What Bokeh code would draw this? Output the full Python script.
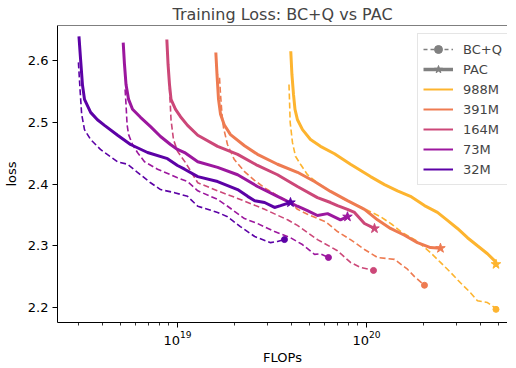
from bokeh.plotting import figure
from bokeh.models import (Range1d, FixedTicker, LogTickFormatter, Legend, LegendItem, Span)
from bokeh.embed import file_html
from bokeh.resources import INLINE

E18 = 1e18

models = ["988M", "391M", "164M", "73M", "32M"]
colors = {"32M": "#5c01a6", "73M": "#9c179e", "164M": "#cc4778", "391M": "#ee7b51", "988M": "#fdb42f"}

# ---- PAC (solid) ----
flops_32m_pac = [3.01, 3.07, 3.14, 3.22, 3.47, 3.77, 4.11, 4.82, 5.64, 6.94, 8.85, 10.0, 10.9, 12.8, 16.3, 20.8, 23.5, 25.6, 28.9, 32.6, 35.1, 36.8, 39.6]
loss_32m_pac = [2.639, 2.602, 2.561, 2.537, 2.516, 2.504, 2.495, 2.479, 2.464, 2.451, 2.441, 2.430, 2.424, 2.412, 2.404, 2.391, 2.380, 2.373, 2.370, 2.362, 2.365, 2.367, 2.370]

flops_73m_pac = [5.16, 5.24, 5.34, 5.51, 5.78, 6.37, 7.20, 8.13, 9.18, 10.0, 10.9, 12.8, 16.3, 20.8, 26.5, 33.8, 43.1, 48.7, 55.0, 62.2, 72.8, 79.3]
loss_73m_pac = [2.629, 2.594, 2.561, 2.537, 2.521, 2.508, 2.493, 2.477, 2.464, 2.456, 2.451, 2.436, 2.427, 2.415, 2.396, 2.380, 2.364, 2.357, 2.349, 2.352, 2.342, 2.347]

flops_164m_pac = [8.78, 8.91, 9.07, 9.24, 9.76, 10.37, 11.3, 12.8, 16.3, 20.8, 26.5, 33.8, 43.1, 55.0, 64.5, 70.2, 79.3, 86.4, 97.5, 110.2]
loss_164m_pac = [2.634, 2.594, 2.561, 2.537, 2.521, 2.509, 2.495, 2.479, 2.461, 2.448, 2.430, 2.415, 2.396, 2.378, 2.370, 2.365, 2.359, 2.354, 2.336, 2.328]

flops_391m_pac = [15.95, 16.18, 16.48, 16.89, 17.66, 19.07, 22.62, 26.49, 33.8, 43.13, 53.05, 64.47, 79.29, 97.54, 114.3, 133.9, 158.8, 186.0, 217.9, 246.2]
loss_391m_pac = [2.613, 2.577, 2.537, 2.513, 2.496, 2.480, 2.462, 2.448, 2.432, 2.419, 2.404, 2.388, 2.373, 2.359, 2.342, 2.328, 2.317, 2.305, 2.297, 2.296]

flops_988m_pac = [39.74, 40.31, 41.08, 41.84, 43.13, 45.84, 50.53, 57.07, 67.69, 82.25, 105.0, 124.5, 145.8, 170.8, 202.6, 237.3, 268.1, 302.8, 342.0, 386.3, 436.4, 475.3, 484.2]
loss_988m_pac = [2.615, 2.577, 2.545, 2.521, 2.504, 2.488, 2.472, 2.461, 2.449, 2.432, 2.412, 2.399, 2.389, 2.380, 2.365, 2.354, 2.341, 2.328, 2.313, 2.300, 2.287, 2.276, 2.270]

# ---- BC+Q (dashed) ----
flops_32m_bcq = [2.99, 3.05, 3.11, 3.22, 3.47, 3.91, 4.82, 5.44, 6.14, 7.20, 8.13, 9.64, 11.3, 12.8, 16.3, 18.4, 21.5, 25.6, 31.1, 33.8, 36.8]
loss_32m_bcq = [2.597, 2.553, 2.513, 2.488, 2.472, 2.456, 2.436, 2.432, 2.419, 2.402, 2.391, 2.386, 2.380, 2.364, 2.354, 2.347, 2.331, 2.315, 2.305, 2.307, 2.310]

flops_73m_bcq = [5.28, 5.34, 5.41, 5.51, 5.78, 6.14, 6.69, 7.84, 9.18, 10.0, 11.3, 12.8, 16.3, 18.4, 22.6, 26.5, 32.6, 39.6, 45.8, 53.1, 57.1, 62.9]
loss_73m_bcq = [2.553, 2.529, 2.496, 2.480, 2.464, 2.451, 2.436, 2.424, 2.415, 2.410, 2.404, 2.389, 2.375, 2.364, 2.344, 2.336, 2.323, 2.313, 2.302, 2.286, 2.287, 2.281]

flops_164m_bcq = [9.07, 9.13, 9.24, 9.52, 10.0, 11.0, 12.8, 16.3, 21.5, 28.9, 38.2, 43.1, 55.0, 70.2, 82.3, 92.9, 108.9]
loss_164m_bcq = [2.556, 2.537, 2.504, 2.472, 2.453, 2.435, 2.402, 2.389, 2.375, 2.359, 2.342, 2.333, 2.310, 2.292, 2.273, 2.265, 2.260]

flops_391m_bcq = [16.68, 16.89, 17.19, 17.52, 18.38, 19.94, 22.62, 25.55, 28.85, 33.8, 39.6, 43.13, 48.71, 60.65, 70.2, 82.25, 97.54, 114.3, 140.6, 164.7, 179.4, 202.6]
loss_391m_bcq = [2.572, 2.545, 2.513, 2.491, 2.464, 2.440, 2.420, 2.406, 2.394, 2.381, 2.370, 2.359, 2.351, 2.339, 2.323, 2.310, 2.294, 2.281, 2.278, 2.262, 2.250, 2.236]

flops_988m_bcq = [38.89, 39.12, 39.45, 40.58, 42.09, 44.74, 48.71, 55.02, 64.47, 76.45, 97.54, 118.6, 137.2, 155.0, 186.0, 217.9, 246.2, 278.1, 314.1, 354.8, 386.3, 436.4, 475.3, 484.2]
loss_988m_bcq = [2.561, 2.537, 2.500, 2.467, 2.445, 2.432, 2.415, 2.402, 2.388, 2.375, 2.360, 2.347, 2.334, 2.321, 2.307, 2.289, 2.273, 2.257, 2.240, 2.224, 2.211, 2.208, 2.200, 2.197]

pac = {"32M": (flops_32m_pac, loss_32m_pac), "73M": (flops_73m_pac, loss_73m_pac),
       "164M": (flops_164m_pac, loss_164m_pac), "391M": (flops_391m_pac, loss_391m_pac),
       "988M": (flops_988m_pac, loss_988m_pac)}
bcq = {"32M": (flops_32m_bcq, loss_32m_bcq), "73M": (flops_73m_bcq, loss_73m_bcq),
       "164M": (flops_164m_bcq, loss_164m_bcq), "391M": (flops_391m_bcq, loss_391m_bcq),
       "988M": (flops_988m_bcq, loss_988m_bcq)}

y_ticks = [2.2, 2.3, 2.4, 2.5, 2.6]
x_major = [1e19, 1e20]
x_minor = [m * 10 ** k for k in (18, 19, 20) for m in range(2, 10)]

FONT = "DejaVu Sans"
AXC = "black"
FW, FH = 450, 297
x_lo, x_hi = 10 ** 18.365, 10 ** (18.365 + FW / 189.0)
y_lo, y_hi = 2.1757, 2.6567

p = figure(frame_width=FW, frame_height=FH, x_axis_type="log", output_backend="svg", toolbar_location=None,
           x_range=Range1d(x_lo, x_hi), y_range=Range1d(y_lo, y_hi),
           title="Training Loss: BC+Q vs PAC",
           min_border_left=52, min_border_right=0, min_border_top=18, min_border_bottom=40)
p.title.text_font = FONT
p.title.text_font_size = "16px"
p.title.text_font_style = "normal"
p.title.align = "center"
p.title.standoff = 4
p.title.offset = 0
p.outline_line_color = None
p.xgrid.visible = False
p.ygrid.visible = False
p.background_fill_color = "white"

p.xaxis.ticker = FixedTicker(ticks=x_major, minor_ticks=x_minor)
p.xaxis.formatter = LogTickFormatter()
p.yaxis.ticker = FixedTicker(ticks=y_ticks, minor_ticks=[])
p.xaxis.axis_label = "FLOPs"
p.yaxis.axis_label = "loss"
for ax in (p.xaxis[0], p.yaxis[0]):
    ax.axis_label_text_font = FONT
    ax.axis_label_text_font_size = "13px"
    ax.axis_label_text_font_style = "normal"
    ax.axis_label_text_color = "black"
    ax.major_label_text_font = FONT
    ax.major_label_text_font_size = "13px"
    ax.major_label_text_color = "black"
    ax.axis_line_color = AXC
    ax.axis_line_width = 1
    ax.major_tick_line_color = AXC
    ax.minor_tick_line_color = AXC
    ax.major_tick_line_width = 1
    ax.minor_tick_line_width = 0.8
    ax.major_tick_out = 5
    ax.major_tick_in = 0
    ax.minor_tick_out = 3
    ax.minor_tick_in = 0
p.yaxis.major_label_standoff = 4
p.yaxis.axis_label_standoff = 6
p.xaxis.major_label_standoff = 3
p.xaxis.axis_label_standoff = 2
p.add_layout(Span(location=y_hi, dimension="width", line_color=AXC, line_width=1))

for m in ["32M", "73M", "164M", "391M", "988M"][::-1]:
    c = colors[m]
    fx, fy = bcq[m]
    bx = [v * E18 for v in fx]
    p.line(bx, fy, line_color=c, line_width=1.6, line_dash="6 3")
    p.scatter([bx[-1]], [fy[-1]], marker="circle", size=6, fill_color=c, line_color=c)
    gx, gy = pac[m]
    sx = [v * E18 for v in gx]
    p.line(sx, gy, line_color=c, line_width=3)
    p.scatter([sx[-1]], [gy[-1]], marker="star", size=10, fill_color=c, line_color=c)

# legend proxies (placed outside the visible ranges so only the legend shows them)
off_x = [1e10, 2e10]
off_y = [0.0, 0.0]
r_bcq_l = p.line(off_x, off_y, line_color="gray", line_width=1.6, line_dash="4 3")
r_bcq_m = p.scatter(off_x[:1], off_y[:1], marker="circle", size=5, fill_color="gray", line_color="gray")
r_pac_l = p.line(off_x, off_y, line_color="gray", line_width=3.5)
r_pac_m = p.scatter(off_x[:1], off_y[:1], marker="star", size=9, fill_color="gray", line_color="gray")
items = [LegendItem(label="BC+Q", renderers=[r_bcq_l, r_bcq_m]),
         LegendItem(label="PAC", renderers=[r_pac_l, r_pac_m])]
for m in models:
    r = p.line(off_x, off_y, line_color=colors[m], line_width=2)
    items.append(LegendItem(label=m, renderers=[r]))

legend = Legend(items=items, location=(FW - 90, FH - 6 - 154))
legend.label_text_font = FONT
legend.label_text_font_size = "13px"
legend.glyph_width = 30
legend.glyph_height = 20
legend.label_height = 20
legend.label_standoff = 10
legend.spacing = 0
legend.padding = 5
legend.margin = 0
legend.border_line_color = "#cccccc"
legend.background_fill_alpha = 0.8
p.add_layout(legend)

open("out.html", "w").write(file_html(p, INLINE))
